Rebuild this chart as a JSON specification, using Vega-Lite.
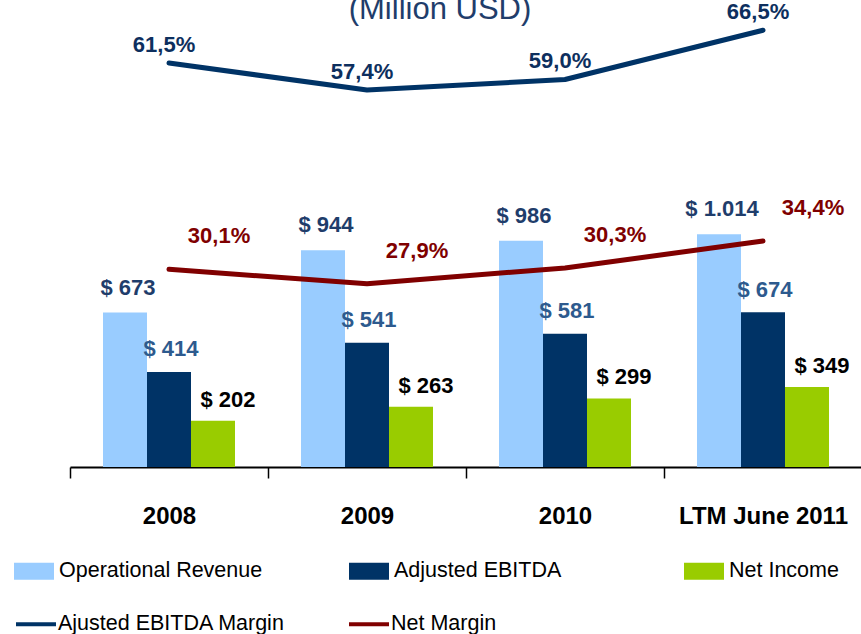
{
  "$schema": "https://vega.github.io/schema/vega-lite/v6.json",
  "width": 792,
  "height": 467,
  "autosize": {"type": "none"},
  "padding": {"left": 70, "top": 0, "right": 0, "bottom": 167},
  "config": {
    "view": {"stroke": null},
    "font": "Liberation Sans, Arial, sans-serif"
  },
  "title": {
    "text": "(Million USD)",
    "fontSize": 31,
    "fontWeight": "normal",
    "color": "#1F3D6B",
    "anchor": "middle",
    "frame": "group",
    "dx": -26,
    "offset": -26
  },
  "datasets": {
    "bars": [
      {"year": "2008", "series": "Operational Revenue", "value": 673, "label": "$ 673"},
      {"year": "2008", "series": "Adjusted EBITDA", "value": 414, "label": "$ 414"},
      {"year": "2008", "series": "Net Income", "value": 202, "label": "$ 202"},
      {"year": "2009", "series": "Operational Revenue", "value": 944, "label": "$ 944"},
      {"year": "2009", "series": "Adjusted EBITDA", "value": 541, "label": "$ 541"},
      {"year": "2009", "series": "Net Income", "value": 263, "label": "$ 263"},
      {"year": "2010", "series": "Operational Revenue", "value": 986, "label": "$ 986"},
      {"year": "2010", "series": "Adjusted EBITDA", "value": 581, "label": "$ 581"},
      {"year": "2010", "series": "Net Income", "value": 299, "label": "$ 299"},
      {"year": "LTM June 2011", "series": "Operational Revenue", "value": 1014, "label": "$ 1.014"},
      {"year": "LTM June 2011", "series": "Adjusted EBITDA", "value": 674, "label": "$ 674"},
      {"year": "LTM June 2011", "series": "Net Income", "value": 349, "label": "$ 349"}
    ],
    "margins": [
      {"year": "2008", "series": "Ajusted EBITDA  Margin", "margin": 61.5, "label": "61,5%"},
      {"year": "2009", "series": "Ajusted EBITDA  Margin", "margin": 57.4, "label": "57,4%"},
      {"year": "2010", "series": "Ajusted EBITDA  Margin", "margin": 59.0, "label": "59,0%"},
      {"year": "LTM June 2011", "series": "Ajusted EBITDA  Margin", "margin": 66.5, "label": "66,5%"},
      {"year": "2008", "series": "Net Margin", "margin": 30.1, "label": "30,1%"},
      {"year": "2009", "series": "Net Margin", "margin": 27.9, "label": "27,9%"},
      {"year": "2010", "series": "Net Margin", "margin": 30.3, "label": "30,3%"},
      {"year": "LTM June 2011", "series": "Net Margin", "margin": 34.4, "label": "34,4%"}
    ]
  },
  "layer": [
    {
      "data": {"name": "bars"},
      "layer": [
        {
          "mark": {"type": "bar"},
          "encoding": {
            "x": {
              "field": "year", "type": "nominal", "sort": null,
              "scale": {"paddingInner": 0, "paddingOuter": 0},
              "axis": {
                "title": null, "labelAngle": 0, "tickBand": "extent",
                "domainColor": "#000000", "domainWidth": 2,
                "tickColor": "#000000", "tickWidth": 1.5, "tickSize": 11,
                "labelFontSize": 24, "labelFontWeight": "bold", "labelColor": "#000000",
                "labelPadding": 26, "labelLimit": 300
              }
            },
            "xOffset": {
              "field": "series", "type": "nominal",
              "scale": {"domain": ["Operational Revenue", "Adjusted EBITDA", "Net Income"], "paddingInner": 0, "paddingOuter": 0.75}
            },
            "y": {"field": "value", "type": "quantitative", "scale": {"domain": [0, 2035]}, "axis": null},
            "color": {
              "field": "series", "type": "nominal",
              "scale": {"domain": ["Operational Revenue", "Adjusted EBITDA", "Net Income"], "range": ["#99CCFF", "#003366", "#99CC00"]},
              "legend": {
                "title": null, "orient": "none", "legendX": -56, "legendY": 551,
                "direction": "horizontal", "columns": 3, "gridAlign": "all", "columnPadding": 86,
                "symbolType": "M-1,-0.43H1V0.43H-1Z", "symbolSize": 1600, "symbolStrokeWidth": 0,
                "labelFontSize": 21.5, "labelColor": "#000000", "labelOffset": 5, "labelLimit": 400
              }
            }
          }
        },
        {
          "transform": [{"filter": "datum.series === 'Operational Revenue'"}],
          "mark": {"type": "text", "fontSize": 22, "fontWeight": "bold", "color": "#1F3D6B", "baseline": "alphabetic", "dy": -18, "dx": 3},
          "encoding": {
            "x": {"field": "year", "type": "nominal", "sort": null},
            "xOffset": {"field": "series", "type": "nominal"},
            "y": {"field": "value", "type": "quantitative", "scale": {"domain": [0, 2035]}, "axis": null},
            "text": {"field": "label"}
          }
        },
        {
          "transform": [{"filter": "datum.series === 'Adjusted EBITDA'"}],
          "mark": {"type": "text", "fontSize": 22, "fontWeight": "bold", "color": "#2D5A8E", "baseline": "alphabetic", "dy": -15.5, "dx": 2},
          "encoding": {
            "x": {"field": "year", "type": "nominal", "sort": null},
            "xOffset": {"field": "series", "type": "nominal"},
            "y": {"field": "value", "type": "quantitative", "scale": {"domain": [0, 2035]}, "axis": null},
            "text": {"field": "label"}
          }
        },
        {
          "transform": [{"filter": "datum.series === 'Net Income'"}],
          "mark": {"type": "text", "fontSize": 22, "fontWeight": "bold", "color": "#000000", "baseline": "alphabetic", "dy": -14, "dx": 15},
          "encoding": {
            "x": {"field": "year", "type": "nominal", "sort": null},
            "xOffset": {"field": "series", "type": "nominal"},
            "y": {"field": "value", "type": "quantitative", "scale": {"domain": [0, 2035]}, "axis": null},
            "text": {"field": "label"}
          }
        }
      ]
    },
    {
      "data": {"name": "margins"},
      "layer": [
        {
          "mark": {"type": "line", "strokeWidth": 5, "strokeCap": "round", "strokeJoin": "round"},
          "encoding": {
            "x": {"field": "year", "type": "nominal", "sort": null},
            "y": {"field": "margin", "type": "quantitative", "scale": {"domain": [0, 71.1]}, "axis": null},
            "color": {
              "field": "series", "type": "nominal",
              "scale": {"domain": ["Ajusted EBITDA  Margin", "Net Margin"], "range": ["#003366", "#800000"]},
              "legend": {
                "title": null, "orient": "none", "legendX": -56, "legendY": 602,
                "direction": "horizontal", "columns": 3, "gridAlign": "all", "columnPadding": 49,
                "symbolType": "stroke", "symbolSize": 1600, "symbolStrokeWidth": 4,
                "labelFontSize": 21.5, "labelColor": "#000000", "labelOffset": 0, "labelLimit": 400
              }
            }
          }
        },
        {
          "transform": [{"filter": "datum.series === 'Ajusted EBITDA  Margin'"}],
          "mark": {"type": "text", "fontSize": 22, "fontWeight": "bold", "color": "#0D2F5E", "baseline": "middle", "dy": -18, "dx": -5},
          "encoding": {
            "x": {"field": "year", "type": "nominal", "sort": null},
            "y": {"field": "margin", "type": "quantitative", "scale": {"domain": [0, 71.1]}, "axis": null},
            "text": {"field": "label"}
          }
        },
        {
          "transform": [{"filter": "datum.series === 'Net Margin'"}],
          "mark": {"type": "text", "fontSize": 22, "fontWeight": "bold", "color": "#7F0000", "baseline": "middle", "dy": -33, "dx": 50},
          "encoding": {
            "x": {"field": "year", "type": "nominal", "sort": null},
            "y": {"field": "margin", "type": "quantitative", "scale": {"domain": [0, 71.1]}, "axis": null},
            "text": {"field": "label"}
          }
        }
      ]
    }
  ],
  "resolve": {"scale": {"y": "independent", "color": "independent"}}
}
